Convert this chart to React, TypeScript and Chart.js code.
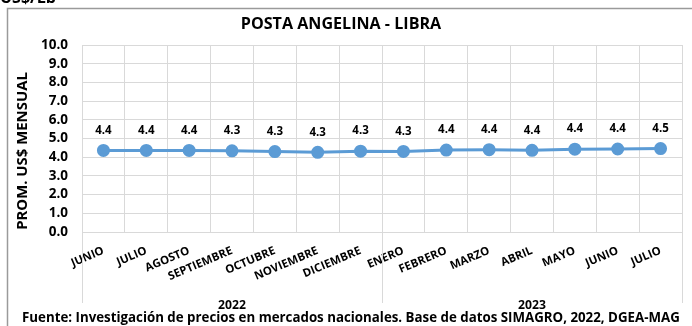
import React, { useEffect, useRef } from "react";
import { Chart, registerables } from "chart.js";

Chart.register(...registerables);

const months = [
  "JUNIO", "JULIO", "AGOSTO", "SEPTIEMBRE", "OCTUBRE", "NOVIEMBRE", "DICIEMBRE",
  "ENERO", "FEBRERO", "MARZO", "ABRIL", "MAYO", "JUNIO", "JULIO",
];
const years = ["2022", "2023"];
const yearSpans = [7, 7];
const prices = [4.36, 4.36, 4.36, 4.34, 4.30, 4.26, 4.32, 4.31, 4.38, 4.40, 4.37, 4.43, 4.44, 4.46];
const priceLabels = ["4.4", "4.4", "4.4", "4.3", "4.3", "4.3", "4.3", "4.3", "4.4", "4.4", "4.4", "4.4", "4.4", "4.5"];
const yTicks = [0, 1, 2, 3, 4, 5, 6, 7, 8, 9, 10];

const chartTitle = "POSTA ANGELINA - LIBRA";
const yTitle = "PROM. US$ MENSUAL";
const unitText = "US$/Lb";
const footerText = "Fuente: Investigación de precios en mercados nacionales. Base de datos SIMAGRO, 2022, DGEA-MAG";

const FONT = "'Open Sans', 'DejaVu Sans', sans-serif";

function fit(text: string, target: number): number {
  const c = document.createElement("canvas");
  const ctx = c.getContext("2d")!;
  ctx.font = `bold 20px ${FONT}`;
  const w = ctx.measureText(text).width;
  return Math.round((20 * target / w) * 10) / 10;
}

export default function App() {
  const ref = useRef<HTMLCanvasElement | null>(null);
  useEffect(() => {
    if (!ref.current) return;
    const sz = {
      title: fit(chartTitle, 201),
      yTitle: fit(yTitle, 158),
      footer: fit(footerText, 656),
      label: fit("4.4", 16.5),
      year: fit("2022", 28),
      yTick: fit("10.0", 27),
      xTick: fit("SEPTIEMBRE", 69),
    };
    const extrasPlugin = {
      id: "extras",
      afterDraw(chart: any) {
        const ctx = chart.ctx as CanvasRenderingContext2D;
        const xs = chart.scales.x;
        const area = chart.chartArea;
        ctx.save();
        ctx.strokeStyle = "#9A9A9A";
        ctx.lineWidth = 1.5;
        ctx.strokeRect(7.5, 8.5, 720, 400);
        ctx.fillStyle = "#000";
        ctx.font = `bold 16px ${FONT}`;
        ctx.textAlign = "left";
        ctx.textBaseline = "alphabetic";
        ctx.fillText(unitText, 0, 3);
        ctx.font = `bold ${sz.title}px ${FONT}`;
        ctx.textAlign = "center";
        ctx.textBaseline = "middle";
        ctx.fillText(chartTitle, 341, 24);
        ctx.save();
        ctx.translate(23, 151);
        ctx.rotate(-Math.PI / 2);
        ctx.font = `bold ${sz.yTitle}px ${FONT}`;
        ctx.fillText(yTitle, 0, 0);
        ctx.restore();
        const meta = chart.getDatasetMeta(0);
        ctx.font = `bold ${sz.label}px ${FONT}`;
        meta.data.forEach((pt: any, i: number) => {
          ctx.fillText(priceLabels[i], pt.x, pt.y - 20);
        });
        const step = xs.getPixelForValue(1) - xs.getPixelForValue(0);
        let start = 0;
        const bounds: number[] = [xs.getPixelForValue(0) - step / 2];
        years.forEach((yr, k) => {
          const end = start + yearSpans[k];
          const x0 = xs.getPixelForValue(start) - step / 2;
          const x1 = xs.getPixelForValue(end - 1) + step / 2;
          bounds.push(x1);
          ctx.font = `bold ${sz.year}px ${FONT}`;
          ctx.fillText(yr, (x0 + x1) / 2, 305.5);
          start = end;
        });
        ctx.strokeStyle = "#D9D9D9";
        ctx.lineWidth = 1;
        bounds.forEach((bx) => {
          ctx.beginPath();
          ctx.moveTo(Math.round(bx) + 0.5, area.bottom);
          ctx.lineTo(Math.round(bx) + 0.5, 303);
          ctx.stroke();
        });
        ctx.font = `bold ${sz.footer}px ${FONT}`;
        ctx.textAlign = "left";
        ctx.textBaseline = "alphabetic";
        ctx.fillText(footerText, 22, 322);
        ctx.restore();
      },
    };
    const chart = new Chart(ref.current, {
      type: "line",
      data: {
        labels: months,
        datasets: [
          {
            data: prices,
            borderColor: "#5B9BD5",
            backgroundColor: "#5B9BD5",
            borderWidth: 3,
            pointRadius: 5,
            pointBackgroundColor: "#5B9BD5",
            pointBorderColor: "#5B9BD5",
            tension: 0,
          },
        ],
      },
      options: {
        animation: false,
        responsive: false,
        devicePixelRatio: 1,
        layout: { padding: { top: 45, right: 10, left: 0, bottom: 0 } },
        plugins: { legend: { display: false }, title: { display: false }, tooltip: { enabled: false } },
        scales: {
          x: {
            type: "category",
            offset: true,
            grid: { offset: true, color: "#D9D9D9", drawTicks: false },
            border: { color: "#D9D9D9" },
            ticks: {
              autoSkip: false,
              minRotation: 23,
              maxRotation: 23,
              padding: 12,
              color: "#000",
              font: { family: FONT, weight: "bold", size: sz.xTick },
            },
            afterFit: (s: any) => { s.height = 94; },
          },
          y: {
            min: 0,
            max: 10,
            afterBuildTicks: (s: any) => { s.ticks = yTicks.map((v) => ({ value: v })); },
            grid: { color: "#D9D9D9", drawTicks: false },
            border: { color: "#D9D9D9" },
            ticks: {
              autoSkip: false,
              padding: 14,
              color: "#000",
              font: { family: FONT, weight: "bold", size: sz.yTick },
              callback: (v: any) => Number(v).toFixed(1),
            },
            afterFit: (s: any) => { s.width = 82; },
          },
        },
      },
      plugins: [extrasPlugin],
    });
    return () => chart.destroy();
  }, []);
  return (
    <div style={{ position: "fixed", left: 0, top: 0, width: 692, height: 326, background: "#fff" }}>
      <canvas ref={ref} width={692} height={326} style={{ display: "block" }} />
    </div>
  );
}
